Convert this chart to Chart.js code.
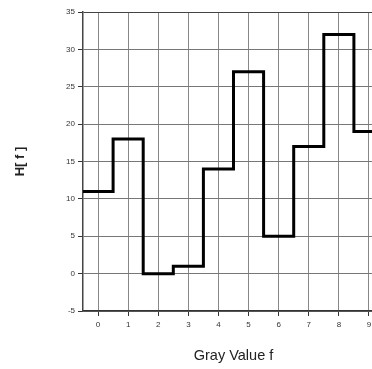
<!DOCTYPE html>
<html>
<head>
<meta charset="utf-8">
<script src="https://cdn.jsdelivr.net/npm/chart.js@4/dist/chart.umd.min.js"></script>
<style>
    html, body { margin: 0; padding: 0; background: #fff; overflow: hidden; }
    #histChart { display: block; }
</style>
</head>
<body>
<canvas id="histChart" width="400" height="369"></canvas>
<script>
// Histogram data
const grayValues = [0, 1, 2, 3, 4, 5, 6, 7, 8, 9];
const counts = [11, 18, 0, 1, 14, 27, 5, 17, 32, 19];
const yTickValues = [-5, 0, 5, 10, 15, 20, 25, 30, 35];

// step outline: each bin spans value-0.5 .. value+0.5
const stepPoints = grayValues.map((g, i) => ({x: g - 0.5, y: counts[i]}));
stepPoints.push({x: grayValues[grayValues.length - 1] + 0.5, y: counts[counts.length - 1]});

const fontFamily = "'Liberation Sans', Arial, sans-serif";

const ctx = document.getElementById('histChart').getContext('2d');
const histChart = new Chart(ctx, {
    type: 'line',
    data: {
        datasets: [{
            label: 'H[f]',
            data: stepPoints,
            stepped: 'before',
            borderColor: '#000',
            borderWidth: 3,
            pointRadius: 0,
            fill: false,
            clip: false
        }]
    },
    options: {
        responsive: false,
        animation: false,
        layout: {
            padding: {top: 12, right: 16, bottom: 0, left: 0}
        },
        plugins: {
            legend: {display: false},
            tooltip: {enabled: false}
        },
        scales: {
            x: {
                type: 'linear',
                min: grayValues[0] - 0.5,
                max: grayValues[grayValues.length - 1] + 0.5,
                afterBuildTicks: scale => {
                    scale.ticks = grayValues.map(v => ({value: v}));
                },
                afterFit: scale => { scale.height = 58; },
                ticks: {
                    color: '#333',
                    padding: 4,
                    maxRotation: 0,
                    font: {family: fontFamily, size: 8}
                },
                grid: {
                    color: '#888',
                    lineWidth: 1,
                    tickLength: 5,
                    tickColor: '#333'
                },
                border: {color: '#333', width: 1.5},
                title: {
                    display: true,
                    text: 'Gray Value f',
                    color: '#222',
                    padding: {top: 0, bottom: 4},
                    font: {family: fontFamily, size: 14.5}
                }
            },
            y: {
                min: -5,
                max: 35,
                afterBuildTicks: scale => {
                    scale.ticks = yTickValues.map(v => ({value: v}));
                },
                afterFit: scale => { scale.width = 83; },
                ticks: {
                    color: '#333',
                    padding: 3,
                    font: {family: fontFamily, size: 8}
                },
                grid: {
                    color: c => (c.tick && c.tick.value === 35) ? '#444' : '#777',
                    lineWidth: 1,
                    tickLength: 5,
                    tickColor: '#333'
                },
                border: {color: '#444', width: 1.5},
                title: {
                    display: true,
                    text: 'H[ f ]',
                    color: '#222',
                    padding: {top: 13, bottom: 0},
                    font: {family: fontFamily, size: 13, weight: 'bold'}
                }
            }
        }
    }
});
</script>
</body>
</html>
